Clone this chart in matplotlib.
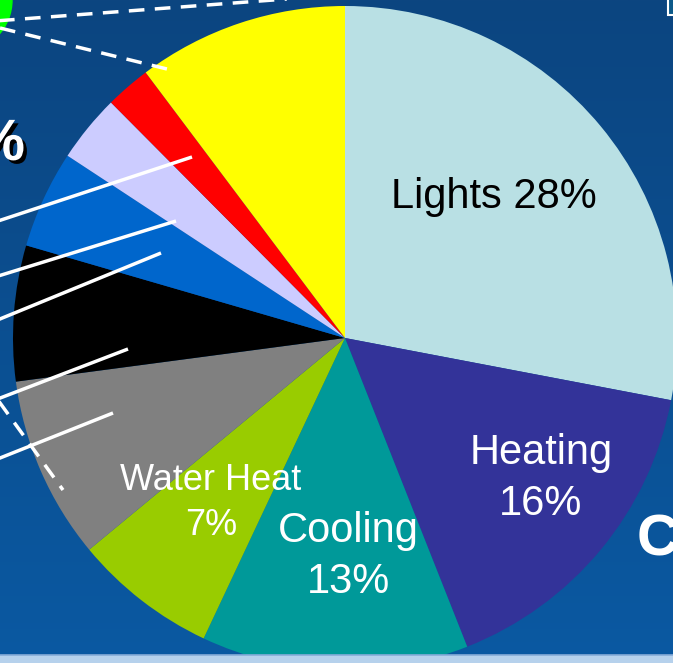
import numpy as np
import matplotlib.pyplot as plt
from matplotlib.patches import Rectangle, Circle
import matplotlib.patheffects as pe

W, H = 673, 663

# energy use shares (percent), clockwise from 12 o'clock
names = ["Lights", "Heating", "Cooling", "Water Heat",
         "Other A", "Other B", "Other C", "Other D", "Other E", "Other F"]
shares = [28, 16, 13, 7, 8.9, 6.6, 4.75, 3.3, 2.2, 10.25]
colors = ["#b9e0e4", "#333399", "#009999", "#99cc00", "#808080",
          "#000000", "#0066cc", "#ccccff", "#ff0000", "#ffff00"]

plt.rcParams['font.family'] = ['Liberation Sans', 'DejaVu Sans']

fig = plt.figure(figsize=(W / 100, H / 100), dpi=100)
ax = fig.add_axes([0, 0, 1, 1])


def py(y):
    # pixel row (top down) -> data y (bottom up)
    return H - y


# slide background, dark blue fading lighter towards the bottom
top = np.array([12, 69, 128]) / 255
bot = np.array([10, 89, 162]) / 255
t = np.linspace(0, 1, 256)[:, None]
grad = (top * (1 - t) + bot * t)[:, None, :]
ax.imshow(grad, extent=(0, W, 0, H), aspect='auto', zorder=0)

ax.pie(shares, colors=colors, startangle=90, counterclock=False,
       radius=332, center=(345, py(338)), frame=True,
       wedgeprops=dict(linewidth=0, zorder=1))

# corner of the neighbouring chart
ax.add_patch(Circle((-40, py(0)), 52, color="#00ff00", zorder=1))
ax.add_patch(Rectangle((668, py(15)), 12, 20, facecolor="#0d5a8a",
                       edgecolor="white", linewidth=1.5, zorder=3))

# leader lines for the small slices
leaders = [((-5, 222), (192, 157)),
           ((-5, 277), (176, 221)),
           ((-5, 321), (161, 253)),
           ((-5, 400), (128, 349)),
           ((-5, 460), (113, 413))]
for (x0, y0), (x1, y1) in leaders:
    ax.plot([x0, x1], [py(y0), py(y1)], color="white", lw=2.5,
            solid_capstyle='butt', zorder=4)

dashed = [((-5, 21), (300, -2)),
          ((0, 28), (167, 69)),
          ((-5, 396), (63, 490))]
for (x0, y0), (x1, y1) in dashed:
    ax.plot([x0, x1], [py(y0), py(y1)], color="white", lw=2.5,
            dashes=(4.5, 3), dash_capstyle='butt', zorder=4)

# slice labels
ax.text(494, py(208), "Lights 28%", color="black", fontsize=30,
        ha='center', va='baseline', zorder=5)
ax.text(541, py(464), "Heating", color="white", fontsize=30,
        ha='center', va='baseline', zorder=5)
ax.text(541, py(515), "16%", color="white", fontsize=30,
        ha='center', va='baseline', zorder=5)
ax.text(348, py(542), "Cooling", color="white", fontsize=30,
        ha='center', va='baseline', zorder=5)
ax.text(348, py(593), "13%", color="white", fontsize=30,
        ha='center', va='baseline', zorder=5)
ax.text(211, py(490), "Water Heat", color="white", fontsize=26,
        ha='center', va='baseline', zorder=5)
ax.text(211, py(535), "7%", color="white", fontsize=26,
        ha='center', va='baseline', zorder=5)

shadow = [pe.withSimplePatchShadow(offset=(2.5, -2.5), shadow_rgbFace='black',
                                   alpha=1.0)]
ax.text(25, py(160), "%", color="white", fontsize=42, fontweight='bold',
        ha='right', va='baseline', zorder=5, path_effects=shadow)
ax.text(637, py(555), "C", color="white", fontsize=42, fontweight='bold',
        ha='left', va='baseline', zorder=5)

# light strip along the bottom edge
ax.add_patch(Rectangle((0, 0), W, py(655), facecolor="#b6d1ec",
                       edgecolor='none', zorder=6))
ax.plot([0, W], [py(655), py(655)], color="#86acd8", lw=1.2, zorder=6)

ax.set_xlim(0, W)
ax.set_ylim(0, H)
ax.axis('off')

fig.savefig("out.png", dpi=100)
